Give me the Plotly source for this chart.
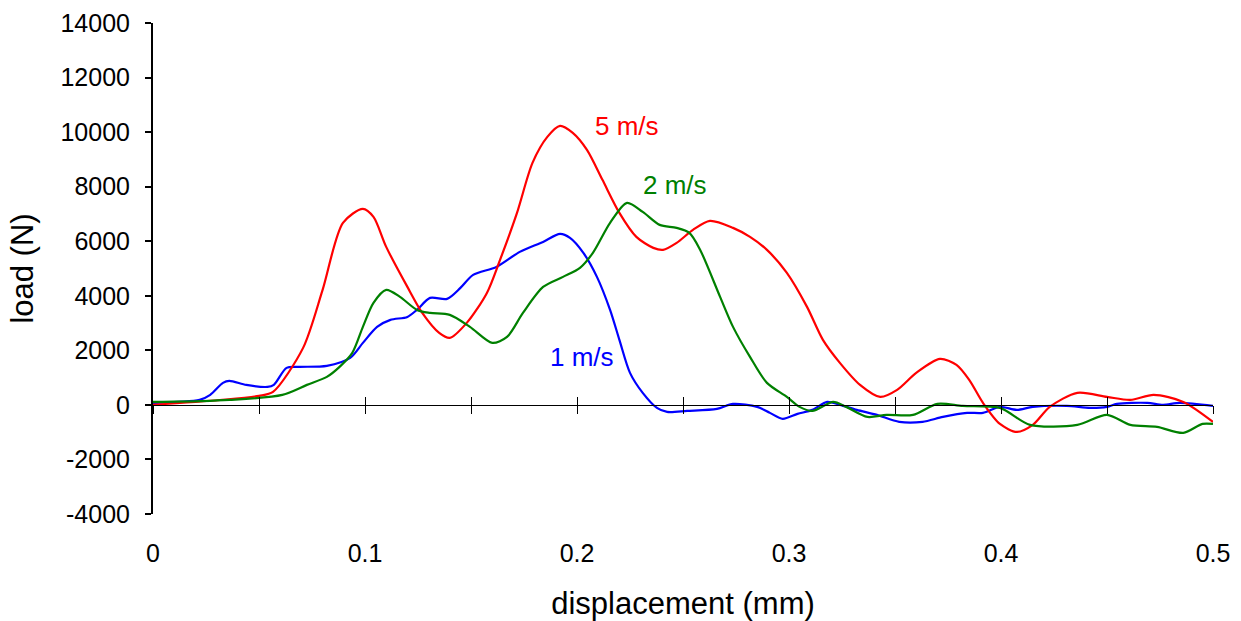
import plotly.graph_objects as go

# ---- data ----
x_5 = [0, 0.0316, 0.05, 0.0566, 0.0708, 0.080, 0.0896, 0.099, 0.104, 0.110, 0.120, 0.127, 0.135,
       0.140, 0.148, 0.1575, 0.1637, 0.1717, 0.179, 0.186, 0.192, 0.198, 0.2047, 0.212, 0.220,
       0.228, 0.236, 0.2406, 0.247, 0.2547, 0.2627, 0.2736, 0.2816, 0.2896, 0.299, 0.3085, 0.316,
       0.324, 0.3335, 0.343, 0.351, 0.360, 0.3712, 0.379, 0.385, 0.3915, 0.3995, 0.4075, 0.415,
       0.423, 0.436, 0.450, 0.461, 0.472, 0.486, 0.5]
y_5 = [0, 180, 330, 477, 2090, 4216, 6672, 7186, 6892, 5792, 4326, 3373, 2640,
       2456, 3006, 4106, 5316, 7039, 8872, 9825, 10228, 9972, 9349, 8249, 7039,
       6159, 5756, 5683, 5939, 6415, 6745, 6489, 6159, 5683, 4839, 3593, 2383,
       1540, 733, 293, 550, 1173, 1686, 1466, 917, 73, -700, -990, -733,
       -73, 440, 293, 183, 367, 110, -623]

x_2 = [0, 0.0047, 0.036, 0.061, 0.0726, 0.082, 0.088, 0.094, 0.099, 0.104, 0.110, 0.1165, 0.1245,
       0.1307, 0.140, 0.1495, 0.160, 0.167, 0.1745, 0.184, 0.1934, 0.2014, 0.2075, 0.2156, 0.2236,
       0.231, 0.239, 0.247, 0.253, 0.258, 0.2675, 0.2736, 0.2816, 0.2896, 0.299, 0.305, 0.311,
       0.3208, 0.327, 0.337, 0.346, 0.3585, 0.370, 0.382, 0.3995, 0.4137, 0.436, 0.450, 0.461,
       0.4736, 0.486, 0.495, 0.5]
y_2 = [110, 110, 183, 367, 733, 1026, 1393, 1906, 2860, 3740, 4216, 3960, 3483,
       3373, 3300, 2860, 2273, 2493, 3373, 4326, 4693, 5023, 5573, 6672, 7406,
       7076, 6599, 6489, 6306, 5700, 3960, 2860, 1760, 807, 293, -73, -220,
       110, -73, -440, -367, -367, 37, -37, -110, -733, -733, -367, -733,
       -807, -1026, -697, -697]

x_1 = [0, 0.022, 0.027, 0.033, 0.036, 0.044, 0.054, 0.057, 0.063, 0.069, 0.082, 0.093, 0.099,
       0.1057, 0.112, 0.120, 0.1245, 0.1307, 0.1387, 0.145, 0.151, 0.162, 0.173, 0.184, 0.192,
       0.1967, 0.203, 0.2094, 0.2156, 0.220, 0.225, 0.231, 0.2377, 0.2425, 0.252, 0.266, 0.2736,
       0.285, 0.291, 0.297, 0.304, 0.311, 0.318, 0.324, 0.332, 0.3415, 0.352, 0.363, 0.3726,
       0.384, 0.3915, 0.3995, 0.4075, 0.415, 0.431, 0.442, 0.450, 0.4547, 0.469, 0.4764, 0.4844,
       0.5]
y_1 = [73, 183, 367, 807, 880, 733, 660, 733, 1356, 1393, 1430, 1723, 2273,
       2860, 3116, 3226, 3483, 3923, 3886, 4289, 4766, 5059, 5609, 5976, 6269,
       6122, 5573, 4693, 3483, 2383, 1173, 440, -110, -257, -220, -147, 37,
       -73, -293, -513, -330, -183, 110, 0, -183, -367, -623, -623, -440,
       -293, -293, -73, -183, -73, -37, -110, -73, 37, 73, 0, 73,
       -37]

series_names = ["5 m/s", "2 m/s", "1 m/s"]
series_colors = ["#FF0000", "#008000", "#0000FF"]
label_x = [0.2236, 0.246, 0.2024]
label_y = [10228, 8065, 1760]

x_tick_vals = [0, 0.1, 0.2, 0.3, 0.4, 0.5]
x_tick_text = ["0", "0.1", "0.2", "0.3", "0.4", "0.5"]
y_tick_vals = [-4000, -2000, 0, 2000, 4000, 6000, 8000, 10000, 12000, 14000]
y_tick_text = ["-4000", "-2000", "0", "2000", "4000", "6000", "8000", "10000", "12000", "14000"]
y_range = [-4000, 14000]
x_range = [0, 0.5]

FONT = "Liberation Sans, Arial, sans-serif"

fig = go.Figure()
# each series is placed on one of three overlaid x axes that share the same range
# (so that the axis line at y=0 with crossing ticks is drawn)
axes_for_series = ["x2", "x3", "x"]
for xs, ys, name, col, ax in zip([x_5, x_2, x_1], [y_5, y_2, y_1], series_names,
                                 series_colors, axes_for_series):
    fig.add_trace(go.Scatter(x=xs, y=ys, mode="lines", name=name, xaxis=ax, yaxis="y",
                             line=dict(color=col, width=2.2, shape="spline", smoothing=0.8),
                             showlegend=False, hoverinfo="skip"))

for t, lx, ly, col in zip(series_names, label_x, label_y, series_colors):
    fig.add_annotation(x=lx, y=ly, text=t, showarrow=False, xref="x", yref="y",
                       font=dict(family=FONT, size=26, color=col))

zero_pos = (0 - y_range[0]) / (y_range[1] - y_range[0])

fig.update_layout(
    width=1241, height=621,
    margin=dict(l=153, r=28, t=23, b=107, autoexpand=False),
    paper_bgcolor="white", plot_bgcolor="white",
    font=dict(family=FONT, color="black"),
    xaxis=dict(range=x_range, anchor="free", position=0, showline=False, showgrid=False,
               zeroline=False, ticks="", tickvals=x_tick_vals, ticktext=x_tick_text,
               tickfont=dict(size=25), ticklabelstandoff=22, automargin=False,
               title=dict(text="displacement (mm)", font=dict(size=31), standoff=29)),
    xaxis2=dict(range=x_range, overlaying="x", anchor="free", position=zero_pos,
                showline=True, linecolor="black", linewidth=1, showgrid=False, zeroline=False,
                ticks="outside", ticklen=8, tickwidth=1, tickcolor="black", dtick=0.05, tick0=0,
                showticklabels=False, automargin=False),
    xaxis3=dict(range=x_range, overlaying="x", anchor="free", position=zero_pos,
                showline=False, showgrid=False, zeroline=False,
                ticks="inside", ticklen=8, tickwidth=1, tickcolor="black", dtick=0.05, tick0=0,
                showticklabels=False, automargin=False),
    yaxis=dict(range=y_range, anchor="x", showline=True, linecolor="black", linewidth=2,
               showgrid=False, zeroline=False, ticks="outside", ticklen=6, tickwidth=2,
               tickcolor="black", tickvals=y_tick_vals, ticktext=y_tick_text,
               tickfont=dict(size=25), ticklabelstandoff=10, automargin=False,
               title=dict(text="load (N)", font=dict(size=31), standoff=18)),
)

fig.write_html("out.html", config={"displayModeBar": False},
               post_script="document.body.style.margin='0';document.body.style.padding='0';")
